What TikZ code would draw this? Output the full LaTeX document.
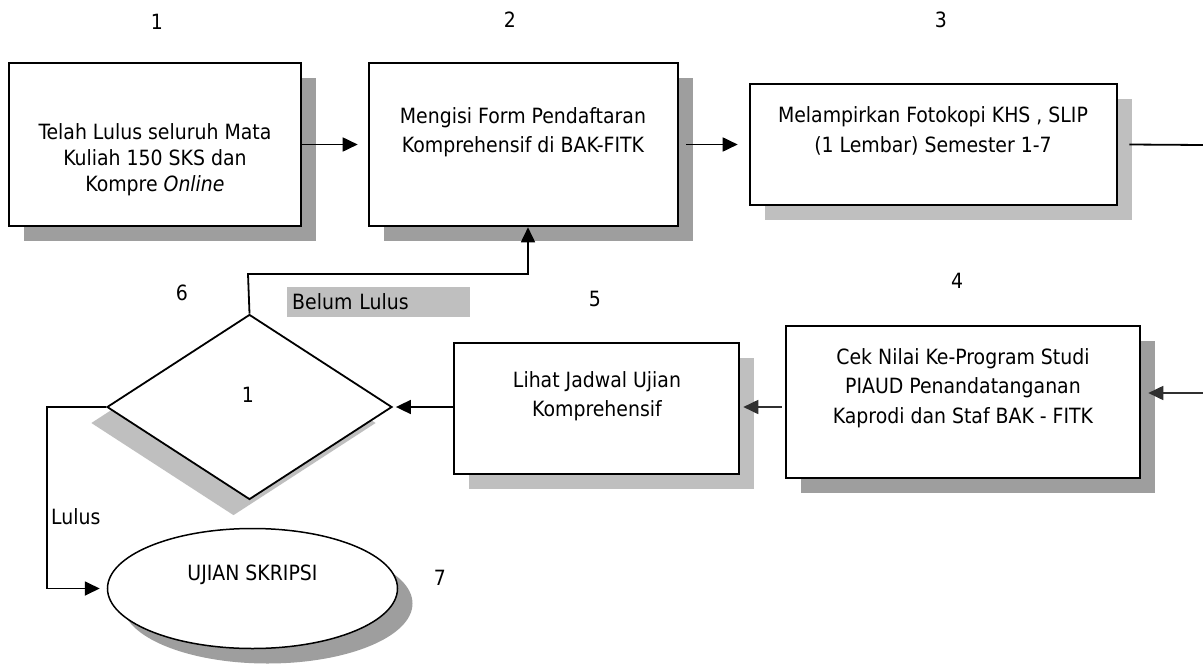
\documentclass[tikz,border=0pt]{standalone}
\usepackage{fontspec}
\setmainfont{DejaVu Sans Condensed}
\usetikzlibrary{arrows.meta,shapes.geometric,shadows}
\definecolor{shdark}{HTML}{9E9E9E}
\definecolor{shlight}{HTML}{BFBFBF}
\definecolor{arrgray}{HTML}{303030}
\begin{document}
\begin{tikzpicture}[x=1pt,y=-1pt,
  font=\fontsize{21}{29.5}\selectfont,
  stepbox/.style={draw, line width=2.6pt, fill=white, inner sep=0pt},
  darksh/.style={drop shadow={shadow xshift=15pt, shadow yshift=-15pt, opacity=1, fill=shdark}},
  lightsh/.style={drop shadow={shadow xshift=15pt, shadow yshift=-15pt, opacity=1, fill=shlight}},
  txt/.style={align=center, inner sep=0pt},
  num/.style={inner sep=0pt},
  conn/.style={line width=1.8pt},
  arr/.style={line width=1.8pt, -{Triangle[length=15pt,width=14pt]}},
  grayarr/.style={line width=1.8pt, draw=arrgray, -{Triangle[length=15pt,width=14pt]}}
]
\useasboundingbox (0,0) rectangle (1203,664);
\fill[white] (0,0) rectangle (1203,664);

% boxes
\node[stepbox, darksh, minimum width=292pt, minimum height=163pt] (b1) at (155,144.5) {};
\node[stepbox, darksh, minimum width=309pt, minimum height=163pt] (b2) at (523.5,144.5) {};
\node[stepbox, lightsh, minimum width=367pt, minimum height=121pt] (b3) at (933.5,144.5) {};
\node[stepbox, darksh, minimum width=354pt, minimum height=152pt] (b4) at (963,402) {};
\node[stepbox, lightsh, minimum width=285pt, minimum height=131pt] (b5) at (596.5,408.5) {};

% decision and terminal
\node[diamond, draw, line width=1.8pt, fill=white, inner sep=0pt,
      minimum width=285pt, minimum height=185pt,
      drop shadow={shadow xshift=-16pt, shadow yshift=-16pt, opacity=1, fill=shlight}] (d) at (249.5,407) {};
\node[ellipse, draw, line width=1.5pt, fill=white, inner sep=0pt,
      minimum width=290pt, minimum height=120pt,
      drop shadow={shadow xshift=15pt, shadow yshift=-15pt, opacity=1, fill=shdark}] (e) at (252.5,588.5) {};

% texts
\node[txt, font=\fontsize{21}{26}\selectfont] (t1) at (155,160) {Telah Lulus seluruh Mata\\Kuliah 150 SKS dan\\Kompre \textit{Online}};
\node[txt] (t2) at (523,132) {Mengisi Form Pendaftaran\\Komprehensif di BAK-FITK};
\node[txt] (t3) at (933,131) {Melampirkan Fotokopi KHS , SLIP\\(1 Lembar) Semester 1-7};
\node[txt] (t4) at (963,388) {Cek Nilai Ke-Program Studi\\PIAUD Penandatanganan\\Kaprodi dan Staf BAK - FITK};
\node[txt] (t5) at (597,396) {Lihat Jadwal Ujian\\Komprehensif};
\node[txt] (te) at (252.5,575) {UJIAN SKRIPSI};

% numbers
\node[num] (n1) at (157,22) {1};
\node[num] (n2) at (510,20) {2};
\node[num] (n3) at (941,20) {3};
\node[num] (n4) at (957,281) {4};
\node[num] (n5) at (595,299) {5};
\node[num] (n6) at (182,293) {6};
\node[num] (n7) at (440,578) {7};
\node[num] (nd) at (248,395) {1};

% labels
\node[fill=shlight, anchor=west, inner xsep=5pt, inner ysep=0pt, text width=173pt,
      minimum height=30pt, align=left] (bl) at (287,302) {Belum Lulus};
\node[num, anchor=west] (ll) at (51,517) {Lulus};

% connectors
\coordinate (r1) at (1203,145);
\coordinate (r2) at (1203,393);
\coordinate (p1) at (248,274);
\coordinate (p2) at (528,274);
\coordinate (q1) at (47,407);
\coordinate (q2) at (47,588.5);
\coordinate (h) at (0,407);

\draw[arr] (b1.east) -- ([xshift=-10pt]b2.west);
\draw[arr] ([xshift=7pt]b2.east) -- ([xshift=-11pt]b3.west);
\draw[conn] ([xshift=11pt]b3.east) -- (r1);
\draw[grayarr] (r2) -- ([xshift=7pt]b4.east |- r2);
\draw[grayarr] ([xshift=-3pt]b4.west |- h) -- ([xshift=3pt]b5.east |- h);
\draw[arr] (b5.west |- h) -- ([xshift=3pt]d.east);
\draw[arr] (d.north) -- (p1) -- (p2) -- (p2 |- b2.south);
\draw[arr] (d.west) -- (q1) -- (q2) -- ([xshift=-7pt]e.west);
\end{tikzpicture}
\end{document}
